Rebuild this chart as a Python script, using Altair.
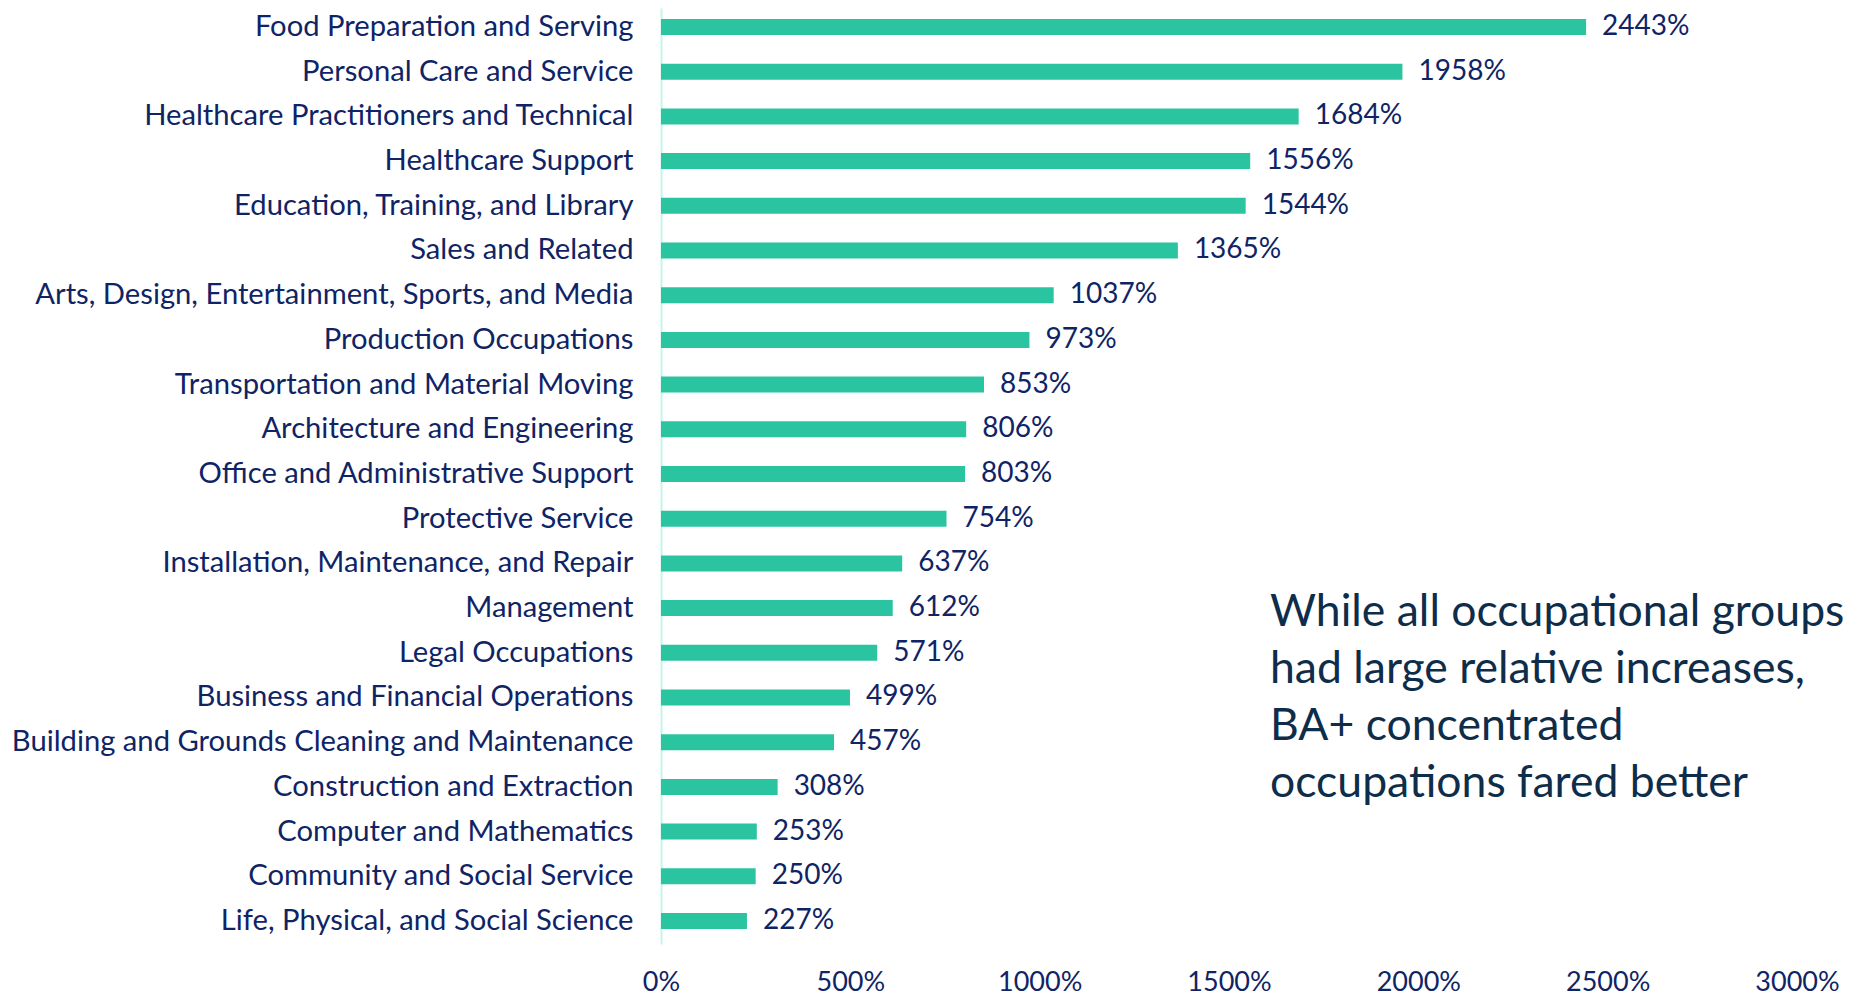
import altair as alt
import pandas as pd

categories = [
    "Food Preparation and Serving",
    "Personal Care and Service",
    "Healthcare Practitioners and Technical",
    "Healthcare Support",
    "Education, Training, and Library",
    "Sales and Related",
    "Arts, Design, Entertainment, Sports, and Media",
    "Production Occupations",
    "Transportation and Material Moving",
    "Architecture and Engineering",
    "Office and Administrative Support",
    "Protective Service",
    "Installation, Maintenance, and Repair",
    "Management",
    "Legal Occupations",
    "Business and Financial Operations",
    "Building and Grounds Cleaning and Maintenance",
    "Construction and Extraction",
    "Computer and Mathematics",
    "Community and Social Service",
    "Life, Physical, and Social Science",
]
values = [2443, 1958, 1684, 1556, 1544, 1365, 1037, 973, 853, 806, 803,
          754, 637, 612, 571, 499, 457, 308, 253, 250, 227]
x_ticks = [0, 500, 1000, 1500, 2000, 2500, 3000]
note_lines = [
    "While all occupational groups",
    "had large relative increases,",
    "BA+ concentrated",
    "occupations fared better",
]

FONT = "Lato"
NAVY = "#0f2465"
BAR = "#2bc4a0"

df = pd.DataFrame({"cat": categories, "val": values})

W, H = 1136, 936

y_enc = alt.Y(
    "cat:N",
    sort=categories,
    title=None,
    scale=alt.Scale(paddingInner=0.642, paddingOuter=0.2908, align=0.423),
    axis=alt.Axis(
        domainColor="#c8f3e8", domainWidth=2, ticks=False,
        labelFont=FONT, labelFontSize=29.2, labelColor=NAVY,
        labelPadding=28, labelLimit=0, grid=False,
    ),
)
x_enc = alt.X(
    "val:Q",
    title=None,
    scale=alt.Scale(domain=[0, 3000], nice=False),
    axis=alt.Axis(
        values=x_ticks, labelExpr="datum.value + '%'", domain=False,
        ticks=False, grid=False, labelFont=FONT, labelFontSize=27,
        labelColor=NAVY, labelPadding=25, labelFlush=False,
    ),
)

base = alt.Chart(df).encode(y=y_enc)
bars = base.mark_bar(color=BAR).encode(x=x_enc)
labels = base.transform_calculate(lbl="datum.val + '%'").mark_text(
    align="left", baseline="middle", dx=16, font=FONT, fontSize=28, color=NAVY
).encode(x=alt.X("val:Q"), text="lbl:N")

note = alt.Chart(pd.DataFrame({"note": ["\n".join(note_lines)]})).mark_text(
    align="left", baseline="middle", lineBreak="\n", font=FONT, fontSize=44.5,
    lineHeight=57, color="#0e2d4a",
).encode(x=alt.value(609), y=alt.value(605), text="note:N")

chart = alt.layer(bars, labels, note).properties(
    width=W, height=H,
    autosize=alt.AutoSizeParams(type="none"),
    padding={"left": 653, "top": 0, "right": 53, "bottom": 53},
).configure_view(stroke=None)

chart.save("out.html", embed_options={"renderer": "svg", "actions": False})
